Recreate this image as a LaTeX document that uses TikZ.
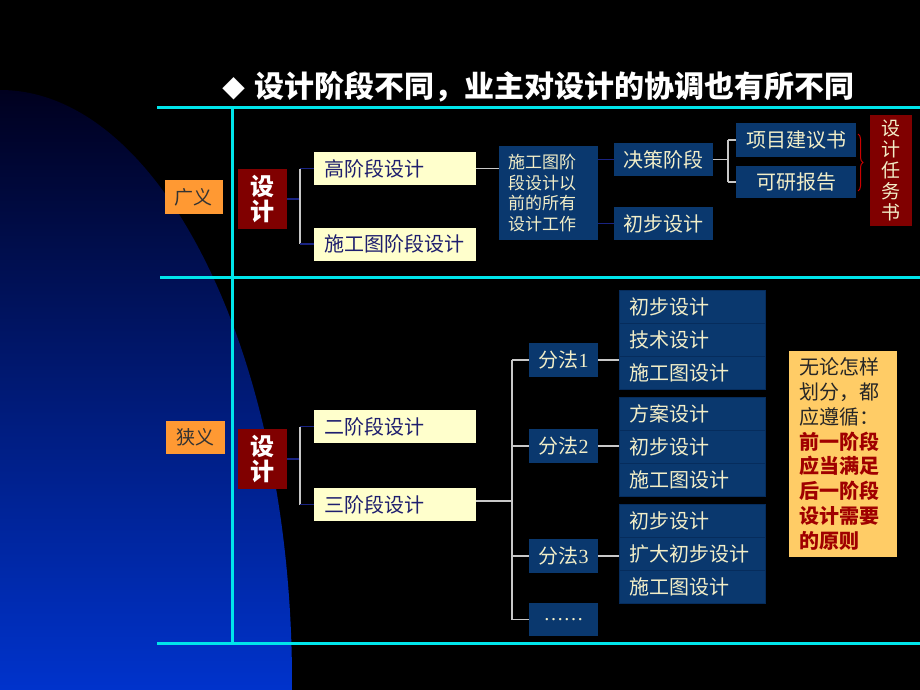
\documentclass[tikz,border=0pt]{standalone}
\usepackage{fontspec}
\setmainfont{Liberation Serif}
\newfontfamily\cjk{Noto Sans CJK SC}
\usetikzlibrary{decorations.pathreplacing}

\definecolor{cyanline}{RGB}{0,230,235}
\definecolor{navybox}{RGB}{10,56,110}
\definecolor{navyedge}{RGB}{6,44,92}
\definecolor{creamtxt}{RGB}{242,238,200}
\definecolor{paleyel}{RGB}{255,255,204}
\definecolor{yeltxt}{RGB}{30,30,110}
\definecolor{orangebox}{RGB}{255,153,51}
\definecolor{darkred}{RGB}{128,0,0}
\definecolor{notebox}{RGB}{255,204,102}
\definecolor{notered}{RGB}{160,0,0}
\definecolor{linkgray}{RGB}{200,200,200}
\definecolor{linknavy}{RGB}{25,35,130}
\definecolor{bgtop}{RGB}{0,0,30}
\definecolor{bgbot}{RGB}{0,51,204}

\begin{document}
\begin{tikzpicture}[x=1pt, y=-1pt,
every node/.style={inner sep=0pt},
sz/.style 2 args={minimum width=#1pt, minimum height=#2pt},
yelbox/.style={fill=paleyel, text=yeltxt, inner xsep=10pt, align=left,
    text width=142pt, minimum height=33pt, font=\cjk\fontsize{20}{24}\selectfont},
navbox/.style={fill=navybox, text=creamtxt, font=\cjk\fontsize{20}{24}\selectfont},
rowbox/.style={navbox, draw=navyedge, line width=0.6pt, inner xsep=10pt, align=left,
    text width=126pt, minimum height=33pt},
redbox/.style={fill=darkred, text=white, align=center},
orabox/.style={fill=orangebox, text=black!80, font=\cjk\fontsize{19}{22}\selectfont},
link/.style={linkgray, line width=1.5pt},
linkn/.style={linknavy, line width=1.2pt},
rule/.style={cyanline, line width=3pt}
]
\useasboundingbox (0,0) rectangle (920,690);
\fill[black] (0,0) rectangle (920,690);
\begin{scope}
\clip (0,682) ellipse [x radius=292, y radius=592];
\shade[top color=bgtop, bottom color=bgbot] (0,88) rectangle (292,690);
\end{scope}

% rules
\draw[rule] (157,108) -- (920,108);
\draw[rule] (160,277) -- (920,277);
\draw[rule] (157,643) -- (920,643);
\draw[rule] (232,108) -- (232,643);

\node[anchor=west, text=white, font=\cjk\bfseries\fontsize{30}{32}\selectfont] (title)
    at (222,87) {{\fontsize{23}{24}\selectfont ◆}\hspace{9pt}设计阶段不同，业主对设计的协调也有所不同};

% broad sense
\node[orabox, sz={58}{34}] (gy) at (193.5,197) {广义};
\node[redbox, sz={49}{60}, font=\cjk\bfseries\fontsize{24}{25}\selectfont] (sj1) at (262.5,199) {设\\计};
\node[yelbox] (gjd) at (395,168.5) {高阶段设计};
\node[yelbox] (sgt) at (395,244) {施工图阶段设计};
\node[navbox, sz={99}{94}, inner xsep=9pt, text width=81pt, align=left,
    font=\cjk\fontsize{17}{20.5}\selectfont] (yq) at (548.5,193) {施工图阶\\段设计以\\前的所有\\设计工作};
\node[navbox, sz={99}{33}] (jc) at (663.5,159.5) {决策阶段};
\node[navbox, sz={99}{33}] (cb) at (663.5,223.5) {初步设计};
\node[navbox, sz={120}{34}] (xm) at (796,140) {项目建议书};
\node[navbox, sz={120}{32}] (ky) at (796,182) {可研报告};
\node[redbox, sz={42}{111}, text=creamtxt, font=\cjk\fontsize{19}{21}\selectfont] (rws)
    at (891,170.5) {设\\计\\任\\务\\书};

\coordinate (b1) at (300,199);
\draw[linkn] (sj1.east) -- (b1);
\draw[link] (b1 |- gjd) -- (b1 |- sgt);
\draw[linkn] (b1 |- gjd) -- (gjd.west);
\draw[linkn] (b1 |- sgt) -- (sgt.west);
\draw[link] (gjd.east) -- (gjd.east -| yq.west);
\draw[linkn] (yq.east |- jc) -- (jc.west);
\draw[linkn] (yq.east |- cb) -- (cb.west);
\coordinate (b3) at (728,159.5);
\draw[link] (jc.east) -- (b3);
\draw[link] (b3 |- xm) -- (b3 |- ky);
\draw[link] (b3 |- xm) -- (xm.west);
\draw[link] (b3 |- ky) -- (ky.west);
\draw[red!80!black, line width=1pt, decorate, decoration={brace, amplitude=5pt}]
    (858,134) -- (858,191);

% narrow sense
\node[orabox, sz={59}{33}] (xy) at (195,437.5) {狭义};
\node[redbox, sz={49}{60}, font=\cjk\bfseries\fontsize{24}{25}\selectfont] (sj2) at (262.5,459) {设\\计};
\node[yelbox] (ejd) at (395,426.5) {二阶段设计};
\node[yelbox] (sjd) at (395,504.5) {三阶段设计};
\node[navbox, sz={69}{34}] (ff1) at (563.5,360) {分法{\rmfamily 1}};
\node[navbox, sz={69}{34}] (ff2) at (563.5,446) {分法{\rmfamily 2}};
\node[navbox, sz={69}{34}] (ff3) at (563.5,556) {分法{\rmfamily 3}};
\node[navbox, sz={69}{33}, font=\fontsize{20}{24}\selectfont] (ffd) at (563.5,619.5) {……};

\foreach \g/\yy/\ta/\tb/\tc in {1/306.5/初步设计/技术设计/施工图设计,
                               2/413.5/方案设计/初步设计/施工图设计,
                               3/520.5/初步设计/扩大初步设计/施工图设计}{
    \node[rowbox] (g\g-1) at (692,\yy) {\ta};
    \node[rowbox] (g\g-2) at (692,{\yy+33}) {\tb};
    \node[rowbox] (g\g-3) at (692,{\yy+66}) {\tc};
}

\node[fill=notebox, sz={108}{206}, inner xsep=10pt, text width=88pt, align=left,
    font=\cjk\fontsize{20}{24.8}\selectfont, text=black!85] (note) at (843,454)
    {无论怎样\\划分，都\\应遵循：\\\textcolor{notered}{\bfseries 前一阶段\\应当满足\\后一阶段\\设计需要\\的原则}};

\coordinate (b2) at (300,459);
\draw[linkn] (sj2.east) -- (b2);
\draw[link] (b2 |- ejd) -- (b2 |- sjd);
\draw[linkn] (b2 |- ejd) -- (ejd.west);
\draw[linkn] (b2 |- sjd) -- (sjd.west);
\coordinate (t) at (512,501);
\draw[link] (sjd.east |- t) -- (t);
\draw[link] (t |- ff1) -- (t |- ffd);
\foreach \k in {ff1,ff2,ff3,ffd}
    \draw[link] (t |- \k) -- (\k.west);
\foreach \k in {1,2,3}
    \draw[link] (ff\k.east) -- (ff\k.east -| g\k-1.west);

\end{tikzpicture}
\end{document}
